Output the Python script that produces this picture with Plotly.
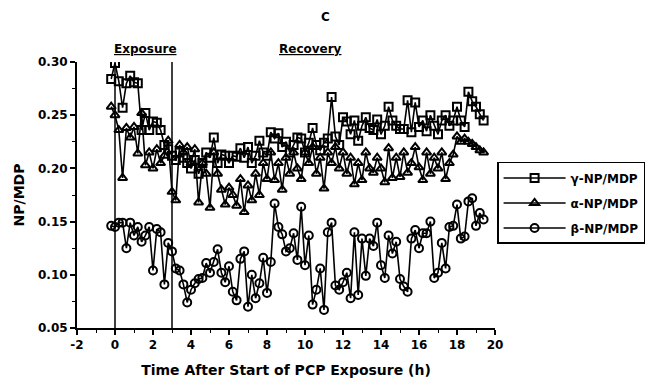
import plotly.graph_objects as go

# ---- data ----
time_h = [-0.2, 0.0, 0.2, 0.4, 0.6, 0.8, 1.0, 1.2, 1.4, 1.6, 1.8, 2.0, 2.2, 2.4, 2.6, 2.8,
          3.0, 3.2, 3.4, 3.6, 3.8, 4.0, 4.2, 4.4, 4.6, 4.8, 5.0, 5.2, 5.4, 5.6, 5.8,
          6.0, 6.2, 6.4, 6.6, 6.8, 7.0, 7.2, 7.4, 7.6, 7.8, 8.0, 8.2, 8.4, 8.6, 8.8,
          9.0, 9.2, 9.4, 9.6, 9.8, 10.0, 10.2, 10.4, 10.6, 10.8, 11.0, 11.2, 11.4, 11.6, 11.8,
          12.0, 12.2, 12.4, 12.6, 12.8, 13.0, 13.2, 13.4, 13.6, 13.8, 14.0, 14.2, 14.4, 14.6, 14.8,
          15.0, 15.2, 15.4, 15.6, 15.8, 16.0, 16.2, 16.4, 16.6, 16.8, 17.0, 17.2, 17.4, 17.6, 17.8,
          18.0, 18.2, 18.4, 18.6, 18.8, 19.0, 19.2, 19.4]

gamma_np = [0.284, 0.299, 0.282, 0.257, 0.280, 0.287, 0.281, 0.280, 0.236, 0.252, 0.236, 0.244,
            0.243, 0.236, 0.222, 0.218, 0.212, 0.208, 0.215, 0.210, 0.205, 0.200, 0.208, 0.195,
            0.205, 0.215, 0.210, 0.229, 0.205, 0.213, 0.212, 0.205, 0.212, 0.211, 0.219, 0.210,
            0.220, 0.205, 0.212, 0.226, 0.215, 0.212, 0.234, 0.228, 0.233, 0.220, 0.225, 0.215,
            0.222, 0.229, 0.228, 0.215, 0.224, 0.238, 0.222, 0.217, 0.224, 0.228, 0.267, 0.230,
            0.222, 0.248, 0.244, 0.232, 0.245, 0.226, 0.240, 0.248, 0.238, 0.236, 0.246, 0.232,
            0.240, 0.258, 0.245, 0.240, 0.237, 0.237, 0.264, 0.234, 0.262, 0.239, 0.245, 0.235,
            0.250, 0.240, 0.232, 0.245, 0.250, 0.240, 0.245, 0.258, 0.245, 0.239, 0.272, 0.263,
            0.258, 0.251, 0.245]

alpha_np = [0.258, 0.250, 0.236, 0.191, 0.238, 0.229, 0.239, 0.214, 0.252, 0.203, 0.215, 0.200,
            0.218, 0.205, 0.212, 0.226, 0.178, 0.170, 0.222, 0.215, 0.220, 0.205, 0.218, 0.168,
            0.205, 0.195, 0.163, 0.215, 0.195, 0.180, 0.166, 0.182, 0.175, 0.165, 0.190, 0.159,
            0.184, 0.170, 0.195, 0.175, 0.205, 0.190, 0.215, 0.189, 0.205, 0.180, 0.210, 0.195,
            0.215, 0.200, 0.190, 0.215, 0.205, 0.220, 0.195, 0.210, 0.181, 0.215, 0.205, 0.220,
            0.200, 0.215, 0.195, 0.210, 0.185, 0.205, 0.189, 0.215, 0.200, 0.196, 0.210, 0.200,
            0.187, 0.219, 0.191, 0.210, 0.192, 0.215, 0.196, 0.205, 0.220, 0.201, 0.189, 0.215,
            0.195, 0.210, 0.200, 0.215, 0.190, 0.205, 0.213, 0.230, 0.225, 0.228, 0.225, 0.223,
            0.220, 0.217, 0.215]

beta_np = [0.146, 0.145, 0.149, 0.149, 0.125, 0.149, 0.137, 0.145, 0.131, 0.137, 0.145, 0.104,
           0.143, 0.140, 0.091, 0.130, 0.122, 0.106, 0.104, 0.091, 0.074, 0.086, 0.092, 0.096,
           0.097, 0.111, 0.102, 0.112, 0.124, 0.102, 0.093, 0.108, 0.084, 0.076, 0.115, 0.122,
           0.070, 0.100, 0.078, 0.092, 0.116, 0.083, 0.112, 0.167, 0.145, 0.138, 0.122, 0.125,
           0.139, 0.114, 0.164, 0.109, 0.137, 0.072, 0.086, 0.106, 0.067, 0.140, 0.149, 0.090,
           0.086, 0.093, 0.102, 0.078, 0.140, 0.081, 0.134, 0.099, 0.134, 0.127, 0.149, 0.109,
           0.097, 0.137, 0.120, 0.131, 0.096, 0.089, 0.084, 0.134, 0.142, 0.125, 0.139, 0.139,
           0.150, 0.097, 0.102, 0.130, 0.106, 0.145, 0.146, 0.166, 0.134, 0.136, 0.169, 0.172,
           0.146, 0.158, 0.152]

series_names = ["γ-NP/MDP", "α-NP/MDP", "β-NP/MDP"]
series_symbols = ["square-open", "triangle-up-open", "circle-open"]
exposure_bounds = [0, 3]
phase_labels = ["Exposure", "Recovery"]
phase_label_x = [1.6, 10.3]
x_tick_vals = [-2, 0, 2, 4, 6, 8, 10, 12, 14, 16, 18, 20]
x_tick_text = ["-2", "0", "2", "4", "6", "8", "10", "12", "14", "16", "18", "20"]

FONT = "DejaVu Sans, sans-serif"

fig = go.Figure()
for name, ys, sym in zip(series_names, [gamma_np, alpha_np, beta_np], series_symbols):
    fig.add_trace(go.Scatter(
        x=time_h, y=ys, name=name, mode="lines+markers", legendgroup=name,
        line=dict(color="black", width=1.6),
        marker=dict(symbol=sym, size=8, color="black", line=dict(width=2, color="black")),
    ))

for xb in exposure_bounds:
    fig.add_shape(type="line", xref="x", yref="y", x0=xb, x1=xb, y0=0.05, y1=0.30,
                  line=dict(color="black", width=1.5))

for lab, lx in zip(phase_labels, phase_label_x):
    fig.add_annotation(x=lx, y=1.0, xref="x", yref="paper", yanchor="bottom", yshift=4,
                       text=f"<u>{lab}</u>", showarrow=False,
                       font=dict(family=FONT, size=12, color="black", weight="bold"))

fig.add_annotation(x=0.595, y=1.0, xref="paper", yref="paper", yanchor="bottom", yshift=36,
                   text="C", showarrow=False,
                   font=dict(family=FONT, size=12, color="black", weight="bold"))

fig.update_layout(
    width=648, height=385,
    margin=dict(l=77, r=153, t=62, b=57, autoexpand=False),
    paper_bgcolor="white", plot_bgcolor="white",
    font=dict(family=FONT, size=12, color="black", weight="bold"),
    showlegend=True,
    legend=dict(x=1.005, y=0.47, xanchor="left", yanchor="middle",
                bordercolor="black", borderwidth=1.5, bgcolor="white",
                font=dict(family=FONT, size=12, color="black", weight="bold"),
                itemwidth=62, tracegroupgap=6),
    xaxis=dict(range=[-2, 20], tickmode="array", tickvals=x_tick_vals, ticktext=x_tick_text,
               showline=True, linecolor="black", linewidth=2, mirror=False,
               ticks="outside", ticklen=5, tickwidth=1.5, tickcolor="black",
               minor=dict(dtick=1, tick0=-2, ticks="outside", ticklen=3, tickcolor="black", tickwidth=1.2),
               showgrid=False, zeroline=False, automargin=False,
               tickfont=dict(family=FONT, size=12, color="black", weight="bold"),
               title=dict(text="Time After Start of PCP Exposure (h)", standoff=14,
                          font=dict(family=FONT, size=14, color="black", weight="bold"))),
    yaxis=dict(range=[0.05, 0.30], tickmode="linear", tick0=0.05, dtick=0.05,
               tickformat=".2f",
               showline=True, linecolor="black", linewidth=2, mirror=False,
               ticks="outside", ticklen=5, tickwidth=1.5, tickcolor="black",
               minor=dict(dtick=0.025, ticks="outside", ticklen=3, tickcolor="black", tickwidth=1.2),
               showgrid=False, zeroline=False, automargin=False,
               tickfont=dict(family=FONT, size=12, color="black", weight="bold"),
               title=dict(text="NP/MDP", standoff=10,
                          font=dict(family=FONT, size=14, color="black", weight="bold"))),
)

fig.write_html("out.html")
